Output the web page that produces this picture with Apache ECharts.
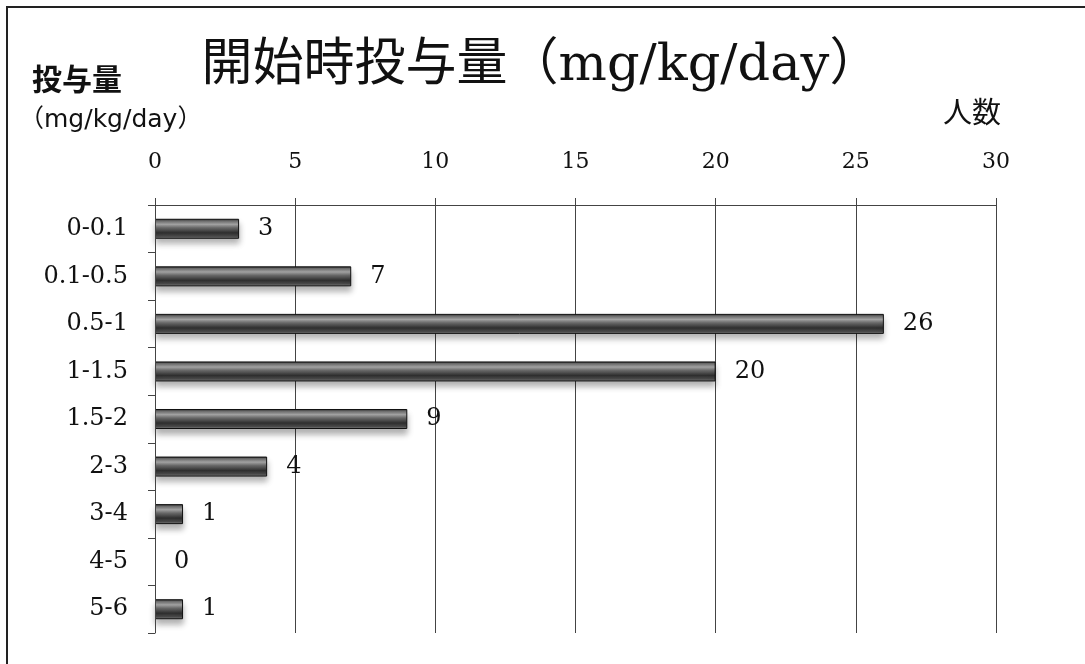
<!DOCTYPE html>
<html><head><meta charset="utf-8">
<script src="https://cdn.jsdelivr.net/npm/echarts@6/dist/echarts.min.js"></script>
<style>html,body{margin:0;padding:0;background:#fff}#c{width:1085px;height:664px}</style>
</head><body><div id="c"></div>
<script>
const categories = ['0-0.1','0.1-0.5','0.5-1','1-1.5','1.5-2','2-3','3-4','4-5','5-6'];
const counts = [3,7,26,20,9,4,1,0,1];
const xTicks = {min:0, max:30, interval:5};
const titleText = '開始時投与量（mg/kg/day）';
const yName1 = '投与量';
const yName2 = '（mg/kg/day）';
const xName = '人数';

const serif = '"DejaVu Serif","Liberation Serif","Noto Sans CJK JP",serif';
const sans = '"DejaVu Sans","Noto Sans CJK JP",sans-serif';
const cjk = '"Noto Sans CJK JP",sans-serif';
const chart = echarts.init(document.getElementById('c'), null, {renderer:'canvas'});
const barColor = new echarts.graphic.LinearGradient(0,0,0,1,[
  {offset:0,color:'#1a1a1a'},{offset:0.1,color:'#6a6a6a'},{offset:0.28,color:'#a8a8a8'},
  {offset:0.45,color:'#6a6a6a'},{offset:0.7,color:'#2e2e2e'},{offset:0.88,color:'#4a4a4a'},{offset:1,color:'#8a8a8a'}]);
const barData = counts.map(v => v === 0
  ? {value:v, itemStyle:{color:'transparent', borderWidth:0, shadowBlur:0, shadowOffsetY:0, shadowColor:'transparent'}}
  : {value:v});
chart.setOption({
  animation:false,
  backgroundColor:'#fff',
  title:{text:titleText,left:536,textAlign:'center',top:36,
    textStyle:{fontFamily:serif,fontSize:51,fontWeight:'normal',color:'#111'}},
  graphic:[
    {type:'rect',shape:{x:7,y:7,width:1200,height:800},style:{fill:'none',stroke:'#222',lineWidth:2},silent:true},
    {type:'text',left:32,top:64,style:{text:yName1,font:'bold 30px '+cjk,fill:'#111'}},
    {type:'text',left:19,top:108,style:{text:yName2,font:'25px '+sans,fill:'#111'}},
    {type:'text',left:943,top:97,style:{text:xName,font:'29px '+cjk,fill:'#111'}}
  ],
  grid:{left:155,right:89,top:205,bottom:31,containLabel:false},
  xAxis:{type:'value',position:'top',min:xTicks.min,max:xTicks.max,interval:xTicks.interval,
    axisLine:{show:true,lineStyle:{color:'#444',width:1}},
    axisTick:{show:true,length:7,lineStyle:{color:'#444'}},
    axisLabel:{margin:32,fontFamily:serif,fontSize:22,color:'#111'},
    splitLine:{show:true,lineStyle:{color:'#444',width:1}}},
  yAxis:{type:'category',data:categories,inverse:true,z:5,
    axisLine:{show:true,lineStyle:{color:'#444',width:1}},
    axisTick:{show:true,length:7,inside:false,lineStyle:{color:'#444'}},
    axisLabel:{margin:27,fontFamily:serif,fontSize:24,color:'#111'},
    splitLine:{show:false}},
  series:[{type:'bar',data:barData,barWidth:20,
    itemStyle:{color:barColor,borderColor:'#111',borderWidth:1,
      shadowColor:'rgba(0,0,0,0.3)',shadowBlur:6,shadowOffsetY:5},
    label:{show:true,position:'right',distance:19,fontFamily:serif,fontSize:24,color:'#111'}}]
});
</script></body></html>
